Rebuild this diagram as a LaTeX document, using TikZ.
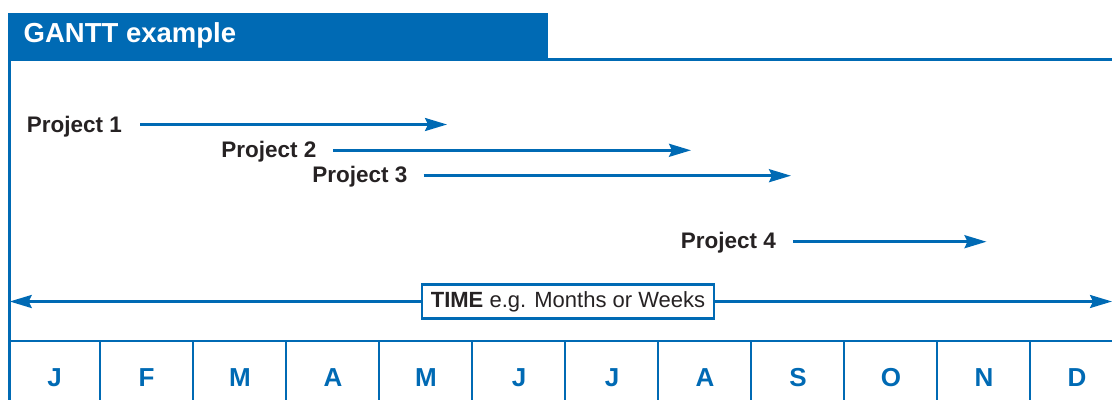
\documentclass[tikz,border=0pt]{standalone}
\usepackage{fontspec}
\setmainfont{Liberation Sans}
\usetikzlibrary{arrows.meta}
\definecolor{gblue}{RGB}{0,106,180}
\definecolor{gtext}{RGB}{38,34,35}
\begin{document}
\begin{tikzpicture}[x=1pt,y=-1pt,
  frame/.style={draw=gblue,line width=2.6pt},
  tip/.style={-{Stealth[length=22pt,width=13pt,inset=3pt]}},
  parrow/.style={draw=gblue,line width=2.6pt,tip},
  plabel/.style={anchor=base east,inner sep=0pt,text=gtext,font=\fontsize{22.5}{27}\selectfont\bfseries},
  month/.style={anchor=base,inner sep=0pt,text=gblue,font=\fontsize{26}{30}\selectfont\bfseries},
  title/.style={anchor=base west,inner sep=0pt,text=white,font=\fontsize{27.5}{31}\selectfont\bfseries},
  timebox/.style={draw=gblue,line width=2.6pt,fill=white,minimum width=292pt,minimum height=34pt,inner sep=0pt,text=gtext,font=\fontsize{22}{26}\selectfont}]
\useasboundingbox (0,0) rectangle (1112,400);
% header
\fill[gblue] (8,12.7) rectangle (548,60.7);
\node[title] (ttl) at (23.5,42.7) {GANTT example};
% frame
\draw[frame] (546.5,59.4) -- (1112,59.4);
\draw[frame] (9.7,59) -- (9.7,400);
\draw[frame] (9.7,341) -- (1112,341);
\foreach \k in {0,...,10}{
  \draw[frame] ({100+93*\k},341) -- ({100+93*\k},400);
}
% months
\foreach \x/\m [count=\i] in {54.5/J,146.5/F,240/M,333/A,426/M,519/J,612/J,705/A,798/S,891/O,984/N,1077/D}{
  \node[month] (m\i) at (\x,386) {\m};
}
% projects
\node[plabel] (p1) at (122,132) {Project 1};
\node[plabel] (p2) at (316.5,157.7) {Project 2};
\node[plabel] (p3) at (407.5,182) {Project 3};
\node[plabel] (p4) at (776,248.3) {Project 4};
\coordinate (s1) at (140,124.5);  \coordinate (e1) at (447,124.5);
\coordinate (s2) at (333,150.3);  \coordinate (e2) at (691,150.3);
\coordinate (s3) at (423.5,175.7); \coordinate (e3) at (791,175.7);
\coordinate (s4) at (793,241.7);  \coordinate (e4) at (986.5,241.7);
\draw[parrow] (s1) -- (e1);
\draw[parrow] (s2) -- (e2);
\draw[parrow] (s3) -- (e3);
\draw[parrow] (s4) -- (e4);
% time axis
\node[timebox] (time) at (568,301.5) {\textbf{TIME} e.g. Months or Weeks};
\coordinate (tl) at (9.7,301.5);
\coordinate (tr) at (1112,301.5);
\draw[parrow] (time.west) -- (tl);
\draw[parrow] (time.east) -- (tr);
\end{tikzpicture}
\end{document}
